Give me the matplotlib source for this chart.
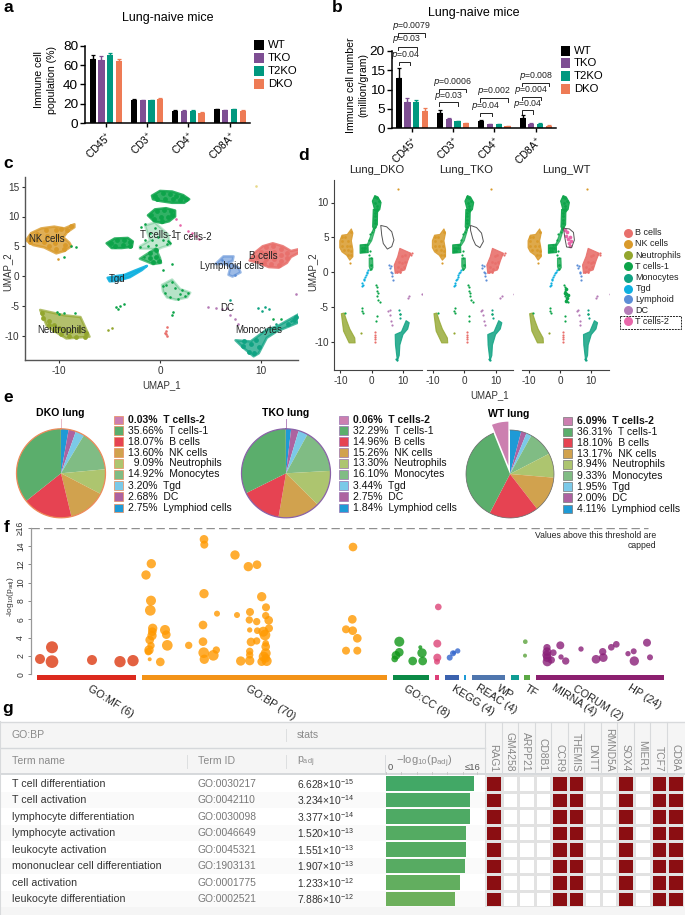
import matplotlib
matplotlib.use("Agg")
import matplotlib.pyplot as plt
import numpy as np
from matplotlib.patches import Rectangle, Polygon

plt.rcParams['font.family'] = ['Liberation Sans', 'DejaVu Sans']
plt.rcParams['mathtext.default'] = 'regular'
plt.rcParams['axes.unicode_minus'] = False

W, H = 685, 915
fig = plt.figure(figsize=(W / 100, H / 100), dpi=100)


def axpx(l, t, r, b, **kw):
    return fig.add_axes([l / W, 1 - b / H, (r - l) / W, (b - t) / H], **kw)


# ---------- data: panels a, b ----------
markers = ['CD45$^{+}$', 'CD3$^{+}$', 'CD4$^{+}$', 'CD8A$^{+}$']
genotypes = ['WT', 'TKO', 'T2KO', 'DKO']
geno_colors = ['#000000', '#7E4E93', '#00987F', '#EE7B55']
a_vals = [[66.5, 65.5, 70, 64], [23.5, 23.5, 23.5, 24.5], [12, 12.5, 12.5, 10.5], [14.5, 13, 14, 12.5]]
a_errs = [[4, 3.5, 2.5, 2.5], [1.5, .5, .5, 1.5], [1, .5, .5, 1], [.5, .5, .5, 1]]
b_vals = [[13, 6.9, 6.7, 4.5], [3.9, 2.3, 1.9, 1.3], [1.8, 1.1, 1.1, .5], [2.7, 1.2, 1.2, .7]]
b_errs = [[2.5, .9, .6, .7], [.7, .4, .1, .1], [.3, .1, .1, .1], [.7, .2, .1, .1]]

# ---------- data: UMAP overview (panel c): cloud outlines and scattered cells ----------
c_clouds = [
    ('NK', .8, [(-13.3,6),(-12.8,7.2),(-11.8,8),(-10.5,8.3),(-9.5,8),(-8.5,8.7),(-8.5,8.2),(-9.2,7.4),(-9.6,6.5),(-9,5.6),(-8.8,5),(-9.5,4.2),(-10.3,3.8),(-11.5,4.8),(-12.6,5.2)]),
    ('T1', .85, [(-.8,13.5),(0,14.3),(1.2,14.2),(2.3,13.6),(2.9,12.9),(2.4,12.3),(1.2,12.3),(0,12.6),(-.7,12.9)]),
    ('T1', .85, [(-1.2,10.2),(-.5,11.2),(.6,11.4),(1.5,11),(1.5,10),(.9,9.2),(.2,8.9),(-.6,9.2)]),
    ('T1', .85, [(-5.3,5.5),(-4.5,6.3),(-3.2,6.4),(-2.7,5.8),(-2.8,4.9),(-3.8,4.7),(-4.8,4.7)]),
    ('T1', .7, [(-2,2.9),(-1,4),(-.4,4.6),(0,3),(.1,2.2),(-.7,2),(-1.4,2.5)]),
    ('T1', .25, [(-2,5),(-1,6),(-1.5,8.5),(-.5,9),(.8,7),(1,5.2),(.2,4.8),(-.2,4.5),(-2,4.6)]),
    ('T1', .3, [(.2,-1.5),(1.2,-.6),(2,-2.2),(3,-2.8),(2.7,-3.6),(1.6,-4),(.7,-3.6),(.3,-2.6)]),
    ('B', .85, [(8.9,2.6),(9.4,3.9),(10.2,5),(11.2,5.5),(12.2,5),(13,4.2),(14,4.6),(14.8,4.7),(13.9,4),(13,3.2),(12.6,2.2),(11.8,1.4),(10.8,1.5),(9.8,2.2)]),
    ('Neu', .7, [(-11.9,-5.7),(-9.5,-6.6),(-7.9,-6.9),(-7,-10.2),(-9.3,-10.5),(-11.2,-8.5)]),
    ('Mono', .75, [(7.5,-10.8),(9,-11),(10.6,-9),(11.6,-8.5),(13.9,-6.3),(13.9,-7.7),(11.6,-9.3),(10.6,-10.4),(9.8,-13),(9.3,-13.5),(8.3,-12.1)]),
    ('Tgd', .9, [(-5.2,-.3),(-5,-.9),(-4.2,-.8),(-3,-.2),(-1.8,1),(-1.3,1.7),(-2.5,.9),(-3.5,.2),(-4.3,0)]),
    ('Lym', .6, [(5.5,2),(6.3,3.3),(7.3,3.3),(7.2,2.5),(6.8,2.3),(7.8,1.4),(8,.6),(7.2,-.1),(6.8,.2),(7,1.5),(6.5,2)]),
]
c_dense = {
    'NK': [(-12.8,6.2),(-12.2,7),(-12.2,6),(-11.3,7.7),(-11.2,6.8),(-11.5,5.7),(-10.3,7.8),(-10.2,6.8),(-10.4,5.5),
           (-9.2,7.8),(-8.8,8.4),(-9.8,7.9),(-9.4,5.2),(-10.3,4.5),(-11,5),(-9.5,4.6),(-12.9,5.7)],
    'T1': [(-.5,13.5),(.3,13.9),(1,13.8),(1.6,13.5),(2.2,13.2),(2.6,12.9),(-.3,13),(.5,13),(1.3,12.9),(2,12.7),
           (-.9,10.3),(-.3,11),(.4,11.1),(1.1,10.9),(-.6,9.6),(.1,10),(.8,10),(.2,9.2),(1.2,10.3),
           (-4.9,5.6),(-4.3,6),(-3.6,6),(-3,5.7),(-4.5,5.1),(-3.7,5.2),(-3,5),
           (-1,3.8),(-.4,4.3),(-1,3),(-.4,3.2),(-.1,2.6),(-.7,2.4)],
    'B': [(9.6,3.2),(10,4),(10.5,4.8),(11.2,5),(12,4.6),(12.6,3.8),(10.5,3.8),(11.3,4),(12,3.5),(12.6,3),
          (10.5,2.8),(11.3,2.9),(12,2.6),(11,2),(11.8,1.8),(10.3,2.2)],
    'Neu': [(-11.7,-6.3),(-11.6,-7),(-11,-7.5),(-11,-8.3),(-10.5,-8.2),(-10.5,-9.1),(-10,-8.7),(-9.8,-9.8),
            (-9.5,-9),(-9,-10.1),(-8.8,-9.3),(-8.3,-10.3),(-8,-9.3),(-7.4,-10.2),(-7.3,-9.5),(-8,-8.8)],
    'Mono': [(8.2,-11.7),(8.8,-12.8),(9.3,-13),(9.8,-12),(9,-11.5),(8.3,-11),(9.5,-10.8),(12.7,-8),(13.3,-7.4),(14,-7),(13.5,-6.9)],
}
c_sparse = {
    'NK': [(-10.1,2.9)],
    'T1': [(-1.5,6),(-1,7.2),(-.5,8),(-.8,6),(-.2,6.5),(-2,4.8),(-1.2,5),(-.4,5.2),(.3,6),(.8,5.9),(.7,5.4),(-1.9,8.2),(-1.5,8.8),
           (-1.6,3.2),(.6,-1.5),(1.2,-1),(1.5,-2),(2.2,-2.4),(2.8,-2.8),(2.5,-3.4),(1.8,-3.8),(1,-3.6),(.5,-2.8),(.3,-1.7),(2,-3),
           (-4.4,-5.2),(-4,-5),(-3.6,-4.7),(-4.2,-5.5),(1.3,-6),(1.2,-6.6),(-10.2,-6),(-10,-6.4),(-8.4,-6.2),(-9.5,-6.3),(-8.8,5),(-8.3,4.9),(-9.5,3.2),
           (12,-7.3),(11.2,-7.2),(1.2,2.1),(.3,1),(.9,5.7),(1,5.5)],
    'B': [(.7,-8.6),(.6,-9.2),(.6,-9.8),(.7,-10),(.5,-9.5)],
    'Neu': [(-5.2,-9),(-4.8,-8.8)],
    'Mono': [(9.7,-5.4),(10.4,-5.2),(10.8,-5.5),(10.1,-5.8),(7,-4),(11.5,-8),(13,-7.6)],
    'Lym': [(6.2,2.7),(7.4,.1)],
    'DC': [(4.8,-5.2),(5.6,-5.4),(6.2,-5.6),(6.7,-5.3),(7,-6.5),(7.4,-7.2),(7.7,-8),(14,-2.8),(13.5,-3)],
    'T2': [(1.6,9.5),(2,8.5),(2.8,7.5),(3.2,7.2),(3.6,6.8),(3.9,6.2),(3,6.8)],
    'Yel': [(9.5,15.1)],
}
c_labels = ['NK cells', 'T cells-1', 'T cells-2', 'B cells', 'Lymphoid cells', 'Tgd', 'DC', 'Neutrophils', 'Monocytes']
c_label_x = [-11.2, -0.2, 3.3, 10.3, 7.1, -4.3, 6.7, -9.8, 9.8]
c_label_y = [6.2, 6.9, 6.6, 3.3, 1.6, -.5, -5.3, -9, -9.1]

cell_colors = {'B': '#E8706C', 'NK': '#D99A2B', 'Neu': '#93A62E', 'T1': '#0DA44A', 'Mono': '#10A383', 'Tgd': '#0DB0E0',
               'Lym': '#5C8ED6', 'DC': '#B57CB7', 'T2': '#E766A9', 'Yel': '#E8D98A'}

# ---------- data: UMAP split by genotype (panel d) ----------
d_clouds = [
    ('NK', .85, [(-10.2,4.5),(-9.5,5.3),(-7.8,5.4),(-6.5,6.2),(-6,5.6),(-6.5,4.5),(-6,3.2),(-6,2.2),(-7,1.7),(-8,2.4),(-9.5,2.9),(-10.2,3.5)]),
    ('T1', .9, [(.2,10.2),(1,11),(2,10.8),(3,10),(2.6,9),(1.8,8.6),(1,8.8)]),
    ('T1', .9, [(.5,9),(1.9,9),(1.8,6.8),(.8,6),(.3,6.5)]),
    ('T1', .7, [(.5,6.2),(1,6),(0,4.5),(-1,3.8),(-1.5,3.8),(-.5,5)]),
    ('T1', .9, [(-3.7,3.9),(-1.2,4),(-1.1,2.8),(-3.7,2.7)]),
    ('T1', .75, [(-.8,2),(.3,2),(.4,.6),(-.4,.2),(-.8,.8)]),
    ('B', .9, [(9,3.4),(12.5,2.7),(11.6,1.7),(10.6,.3),(7.5,-.2),(7.2,1),(8.3,2.2)]),
    ('Neu', .8, [(-9.7,-6),(-8.8,-5.9),(-8,-7),(-7,-8.2),(-5.4,-9.5),(-5.3,-10.2),(-7.2,-10.2),(-9,-8.5)]),
    ('Mono', .85, [(8.2,-12.8),(7.6,-10.5),(7.5,-9),(9.5,-8.6),(11,-7),(12,-7.3),(11.5,-8.2),(10,-9),(9,-10.5),(8.8,-12)]),
]
d_dense = {
    'NK': [(-9.5,5),(-6.5,5.8),(-8.5,5),(-9.5,4.5),(-7.5,4.5),(-9.5,3.8),(-8,3.8),(-6.8,3.8),(-9,3.2),(-7.5,3.2),(-6.5,3),(-7.5,2.5),(-6.5,2.5)],
    'T1': [(1,10.8),(1.6,10.6),(1.2,10),(2.2,10.2),(1.6,9.5),(1.6,9),(1,8.5),(1,8),(1,7.5),(1,7),(-3.2,3.5),(-2.6,3.5),(-2,3.4),(-3.2,3),(-2.6,3),(-.2,1)],
    'B': [(9.8,2.3),(10.5,2.5),(8.8,1.5),(9.8,1.3),(10.7,1.5),(8.3,.7),(9.3,.5),(10.3,.7),(8,0),(9,0)],
}
d_sparse = {
    'NK': [(-7,1.3),(8.5,12)],
    'T1': [(1,6.5),(-.5,5.5),(-1,4.6),(-2.1,3.9),(-.5,3),(-.3,2),(-.3,.5),(.2,5.8),(-.8,2.4),
           (1.6,-2.2),(1.6,-2.8),(1.7,-3.4),(2,-4),(2.7,-4.3),(1.3,-1.9),(1.9,-3),(-3.2,-5.6),(-3.1,-5.2),(-2.9,-5.9),(1.6,-6.4),(1.5,-7),(9,-6),(-8.5,-5.9)],
    'B': [(12.7,2.5),(1,-9),(1,-9.3),(1,-9.7),(1,-10),(1,-8.6),(12.2,2.6),(12.9,2.7)],
    'Neu': [(-3.4,-8.8)],
    'Mono': [(9,-6),(9.2,-6.6),(8.2,-12.7),(7.9,-12.5),(8.8,-5.5)],
    'Tgd': [(-1.1,.3),(-1.6,-.2),(-2.1,-.7),(-2.6,-1.2),(-3,-1.6),(-3.2,-2),(-1.4,0),(-1.9,-.5),(-2.4,-1),(-2.9,-1.9)],
    'Lym': [(5.5,1),(6.2,.9),(6.3,0),(6.6,-.6),(6.8,-1.2),(5.8,.6),(6.5,-.2)],
    'DC': [(5.3,-5.6),(6,-6.2),(6.3,-7),(6.5,-7.6),(5.7,-5.4),(11.9,-3.4),(11.5,-3.7),(16,-3.1)],
}
wt_extra = {
    'T2': [(1.5,6),(2,5.2),(2.5,4.8),(2.9,4.2),(3.2,3.7),(3.5,4.5),(3.1,5),(2.3,5.8)],
    'T1': [(2,-2.5),(2,-3.1),(2.1,-3.7),(1.5,-3),(2.5,-3.3),(2,-4.2)],
}
panel_names = ['Lung_DKO', 'Lung_TKO', 'Lung_WT']
outline_x = [[2.9,4.8,6.4,7.1,6.4,5,3.7,3.2], [2,3.9,5.5,6.1,5,3.6,2.7,2], [1.1,3,4.3,4.6,3.7,2.1,1.6]]
outline_y = [[6.7,6.5,5.8,4.6,3.65,3.3,4.1,5.3], [6.7,6.4,5.6,4.4,3.5,3.9,4.8,6], [6.3,6.2,5.7,4.6,3.5,3.6,4.8]]
d_legend_names = ['B cells', 'NK cells', 'Neutrophils', 'T cells-1', 'Monocytes', 'Tgd', 'Lymphoid', 'DC', 'T cells-2']
d_legend_keys = ['B', 'NK', 'Neu', 'T1', 'Mono', 'Tgd', 'Lym', 'DC', 'T2']

# ---------- data: pies (panel e) ----------
pie_names = ['T cells-2', 'T cells-1', 'B cells', 'NK cells', 'Neutrophils', 'Monocytes', 'Tgd', 'DC', 'Lymphiod cells']
pie_colors = ['#CC7FB0', '#5BAE6C', '#E64352', '#D1A24E', '#ADC56F', '#80BC84', '#7BC9E8', '#AD62A0', '#1E9AD6']
dko_pct = [0.03, 35.66, 18.07, 13.60, 9.09, 14.92, 3.20, 2.68, 2.75]
tko_pct = [0.06, 32.29, 14.96, 15.26, 13.30, 16.10, 3.44, 2.75, 1.84]
wt_pct = [6.09, 36.31, 18.10, 13.17, 8.94, 9.33, 1.95, 2.00, 4.11]

# ---------- data: Manhattan plot (panel f) ----------
mf_pos = [40, 52, 52, 92, 120, 133]
mf_log = [1.67, 2.95, 1.38, 1.56, 1.38, 1.49]
mf_size = [15, 18, 19, 15, 17, 17]
bp_pos = [146,151.3,151,150.3,152.7,152.3,152,149.7,151,149,148.3,149.7,160.3,165,166.3,167.3,188.7,204,204.3,204,203,203,203.7,204.3,
          213.3,216.3,217,235,237,248.3,257,261.7,266,265.7,268.7,256.7,250,249.3,249.7,257.3,269,263.3,265,251,256.7,265.7,265.7,
          249.7,249.7,265.7,263.7,240.7,249.7,261.7,266.7,265.7,353,352.3,346,352.7,357.3,346,357.3]
bp_log = [10.84,12.07,8.04,6.98,5.02,4.65,4.22,3.75,3.13,2.65,2.47,1.64,1.35,4.84,4.33,3.16,3.16,14.73,14.15,8.8,5.38,3.56,2.36,1.64,
          2.07,2.65,6.62,13.02,6.47,11.75,11.96,8.47,7.31,6.4,5.89,5.75,6.8,5.93,4.84,4.76,5.02,4.65,4.29,3.53,3.64,3.38,3.02,
          2.51,2.11,2.29,1.93,1.45,1.49,1.38,1.45,1.75,13.89,6.0,4.91,4.76,3.93,2.58,2.58]
bp_size = [14,14,15,16,14,13,14,13,11,14,11,6,13,15,13,16,11,13,12,14,13,13,16,14,16,11,9,14,9,14,13,14,12,11,13,11,12,11,8,10,12,15,16,13,
           11,10,13,11,11,15,15,14,14,13,15,13,13,13,12,13,13,12,12]
cc_pos = [399.3,399.3,396,394.7,412.7,420.3,422,422.7]
cc_log = [3.56,2.4,2.07,1.67,1.45,2.95,2.33,1.45]
cc_size = [15,13,13,10,13,6,14,13]
kegg_pos = [438.3,437.3,437.3,437]
kegg_log = [7.35,3.35,1.82,1.38]
kegg_size = [10,12,12,9]
reac_pos = [449.7,453,457.7,454]
reac_log = [1.82,2.29,2.55,2.36]
reac_size = [9,9,8,6]
tf_pos = [525.3,525]
tf_log = [3.56,2.04]
tf_size = [7,6]
hp_pos = [547,547,546.7,547.3,553.3,551.3,547.3,560.3,561,565.7,581,596,602.7,603.3,611.3,616.3,628,633.7,647,634.3,650]
hp_log = [2.91,2.47,2.11,1.82,2.36,1.56,1.38,3.16,1.89,1.45,2.76,1.64,2.47,1.82,2.95,3.27,2.25,2.51,3.45,1.45,1.85]
hp_size = [11,13,13,13,10,11,14,12,8,11,8,13,11,13,10,10,8,9,12,14,9]

source_names = ['GO:MF (6)', 'GO:BP (70)', 'GO:CC (8)', 'KEGG (4)', 'REAC (4)', 'WP', 'TF', 'MIRNA (4)', 'CORUM (2)', 'HP (24)']
source_start = [36.7, 142, 393.3, 435, 445, 472, 511, 524.3, 535.7]
source_end = [136, 387.3, 429, 439.3, 458.7, 505.3, 518.7, 530, 664]
source_bar_colors = ['#DC2A1E', '#F39318', '#0B8A46', '#DD3F78', '#3B62AE', '#4F76AE', '#0F9D94', '#5BA845', '#8C2070']

# ---------- data: table (panel g) ----------
term_names = ['T cell differentiation', 'T cell activation', 'lymphocyte differentiation', 'lymphocyte activation',
              'leukocyte activation', 'mononuclear cell differentiation', 'cell activation', 'leukocyte differentiation']
term_ids = ['GO:0030217', 'GO:0042110', 'GO:0030098', 'GO:0046649', 'GO:0045321', 'GO:1903131', 'GO:0001775', 'GO:0002521']
p_mant = [6.628, 3.234, 3.377, 1.520, 1.551, 1.907, 1.233, 7.886]
p_exp = [-15, -14, -14, -13, -13, -13, -12, -12]
genes = ['RAG1', 'GM4258', 'ARPP21', 'CD8B1', 'CCR9', 'THEMIS', 'DNTT', 'RMND5A', 'SOX4', 'MIER1', 'TCF7', 'CD8A']
gene_hit = [1, 0, 0, 0, 1, 1, 0, 0, 1, 0, 1, 1]
bar_colors = ['#42A866', '#4BA965', '#4EAA64', '#54AB62', '#55AB62', '#57AB62', '#62AE5F', '#6DB05C']

# ---------- overlay ----------
px = axpx(0, 0, W, H)
px.set_xlim(0, W)
px.set_ylim(H, 0)
px.axis('off')
px.set_zorder(0)


def T(x, y, s, size=7, ha='center', va='center', **kw):
    return px.text(x, y, s, fontsize=size, ha=ha, va=va, **kw)


for lab, x, y in [('a', 8, 8), ('b', 337, 8), ('c', 8, 163), ('d', 304, 155), ('e', 8, 397), ('f', 7, 527), ('g', 8, 709)]:
    T(x, y, lab, size=12.5, fontweight='bold')


# ---------- panels a, b ----------
def barpanel(box, vals, errs, ymax, yticks, first, step):
    ax = axpx(*box)
    for g, (vg, eg) in enumerate(zip(vals, errs)):
        for i, (v, e) in enumerate(zip(vg, eg)):
            ax.bar(g * 4.72 + i, v, width=0.7, color=geno_colors[i], yerr=[[0], [e]],
                   ecolor=geno_colors[i], error_kw=dict(lw=1, capsize=1.6, capthick=0.9))
    ax.set_xlim(first, first + (box[2] - box[0]) / step)
    ax.set_ylim(0, ymax)
    ax.set_yticks(yticks)
    ax.set_xticks([4.72 * g + 1.5 for g in range(4)])
    ax.set_xticklabels(markers, rotation=45, ha='right', rotation_mode='anchor', fontsize=7.3)
    ax.tick_params(axis='y', labelsize=9.7, length=3.5, width=1, pad=1.5)
    ax.tick_params(axis='x', length=3, width=1, pad=2)
    for s in ['top', 'right']:
        ax.spines[s].set_visible(False)
    for s in ['left', 'bottom']:
        ax.spines[s].set_linewidth(1.1)
    ax.patch.set_alpha(0)
    return ax


barpanel((85, 45.7, 250, 123), a_vals, a_errs, 80, [0, 20, 40, 60, 80], -0.88, 8.75)
barpanel((391.7, 50.7, 556, 128.3), b_vals, b_errs, 20, [0, 5, 10, 15, 20], -0.8, 8.75)

T(168, 18.5, 'Lung-naive mice', size=9)
T(474, 12.7, 'Lung-naive mice', size=9)
T(45.5, 80, 'Immune cell\npopulation (%)', size=7.6, rotation=90, linespacing=1.3)
T(357.5, 85, 'Immune cell number\n(million/gram)', size=7.6, rotation=90, linespacing=1.3)

for x0, x1, ys, tx in [(254, 264, [44.7, 57.7, 71, 84.3], 268), (560.7, 570, [50.7, 63.3, 76, 89.3], 574)]:
    for c, y, n in zip(geno_colors, ys, genotypes):
        px.add_patch(Rectangle((x0, y - 5), x1 - x0, 10, fc=c, ec='none'))
        T(tx, y, n, size=8.2, ha='left')

p_text = ['p=0.04', 'p=0.03', 'p=0.0079', 'p=0.03', 'p=0.0006', 'p=0.04', 'p=0.002', 'p=0.04', 'p=0.004', 'p=0.008']
br_x0 = [178, 174, 174, 298, 298, 420, 420, 547, 547, 547]
br_x1 = [211, 230, 256, 353, 378, 455, 505, 578, 602, 628]
br_top = [186, 140, 100, 307, 266, 338, 295, 331, 290, 249]
tx_y = [165, 118, 78, 287, 246, 318, 274, 311, 269, 229]
tx_x = [196, 201, 214, 325, 339, 438, 461, 562, 574, 587]
for s, a0, a1, t, ty, txx in zip(p_text, br_x0, br_x1, br_top, tx_y, tx_x):
    xa, xb = 340 + a0 / 3, 340 + a1 / 3
    yt, yb = t / 3, (t + 10) / 3
    px.plot([xa, xa, xb, xb], [yb, yt, yt, yb], color='#222222', lw=0.7, solid_joinstyle='miter')
    T(340 + txx / 3, ty / 3, '$\\mathit{p}$' + s[1:], size=6.3, color='#222222')


# ---------- panel c ----------
def scatter_groups(ax, groups, s):
    for k, pts in groups.items():
        ax.scatter([p[0] for p in pts], [p[1] for p in pts], s=s, color=cell_colors[k], lw=0, zorder=2)


def cloud_polys(ax, clouds, lw):
    for k, a, pts in clouds:
        ax.add_patch(Polygon(pts, closed=True, fc=cell_colors[k], ec=cell_colors[k], lw=lw, alpha=a, joinstyle='round', zorder=1))


axc = axpx(25, 176.7, 298, 360)
axc.set_xlim((25 - 160) / 10.07, (298 - 160) / 10.07)
axc.set_ylim((276 - 360) / 5.95, (276 - 176.7) / 5.95)
cloud_polys(axc, c_clouds, 1.8)
scatter_groups(axc, c_dense, 12)
scatter_groups(axc, c_sparse, 3.5)
axc.set_xticks([-10, 0, 10])
axc.set_yticks([-10, -5, 0, 5, 10, 15])
axc.tick_params(labelsize=7.2, length=2.5, width=0.8, pad=1.5, colors='#333333')
for s in ['top', 'right']:
    axc.spines[s].set_visible(False)
for s in ['left', 'bottom']:
    axc.spines[s].set_linewidth(1.0)
    axc.spines[s].set_color('#555555')
axc.patch.set_alpha(0)
T(7, 271.7, 'UMAP_2', size=7, rotation=90, color='#333333')
T(162, 385, 'UMAP_1', size=7, color='#333333')
for n, x, y in zip(c_labels, c_label_x, c_label_y):
    axc.text(x, y, n, fontsize=7, ha='center', va='center', color='#222222', zorder=5)

# ---------- panel d ----------
d_boxes = [(334.3, 421.7, 371.7), (427, 513, 464.3), (522, 609, 560)]
for i, (l, r, zero) in enumerate(d_boxes):
    ax = axpx(l, 180, r, 370)
    ax.set_xlim((l - zero) / 3.13, (r - zero) / 3.13)
    ax.set_ylim((272 - 370) / 6.95, (272 - 180) / 6.95)
    cloud_polys(ax, d_clouds, 0.8)
    scatter_groups(ax, d_dense, 4)
    scatter_groups(ax, d_sparse, 2.5)
    if i == 2:
        scatter_groups(ax, wt_extra, 7)
    ax.add_patch(Polygon(list(zip(outline_x[i], outline_y[i])), closed=True, fc='none', ec='#555555', lw=0.7, zorder=3, joinstyle='round'))
    ax.set_xticks([-10, 0, 10])
    ax.tick_params(labelsize=7.2, length=2.5, width=0.8, pad=1.5, colors='#333333')
    for s in ['top', 'right']:
        ax.spines[s].set_visible(False)
    ax.spines['bottom'].set_color('#444444')
    if i == 0:
        ax.set_yticks([-10, -5, 0, 5, 10])
        ax.spines['left'].set_color('#444444')
    else:
        ax.set_yticks([])
        ax.spines['left'].set_visible(False)
    ax.patch.set_alpha(0)
for n, x in zip(panel_names, [377, 466, 566.7]):
    T(x, 170, n, size=8, color='#222222')
T(312.7, 271.7, 'UMAP_2', size=7, rotation=90, color='#333333')
T(490, 395, 'UMAP_1', size=7, color='#333333')
leg_y = [232.7, 244, 255.3, 266.3, 277.7, 288.7, 299.3, 310.3, 321.3]
for n, k, y in zip(d_legend_names, d_legend_keys, leg_y):
    px.scatter([627.7], [y], s=42, color=cell_colors[k], lw=0)
    T(635.3, y, n, size=6.5, ha='left', color='#222222')
px.add_patch(Rectangle((620, 315.7), 61, 13.6, fc='none', ec='#222222', lw=0.7, ls=(0, (2, 1))))


# ---------- panel e ----------
def pie_panel(cx, cy, r, pct, edge, explode, title, tx, ty, sx0, sx1, text_x, ys, swatch_edge):
    ax = axpx(cx - 60, cy - 60, cx + 60, cy + 60)
    rev = pct[::-1]
    ex = [0] * 8 + [explode]
    ax.pie(rev, colors=pie_colors[::-1], startangle=90, counterclock=False, radius=r, center=(0, 0),
           explode=ex, wedgeprops=dict(edgecolor='none'), frame=True)
    ax.set_xlim(-60, 60)
    ax.set_ylim(-60, 60)
    ax.axis('off')
    arc_from = np.pi / 2 + 2 * np.pi * pct[0] / 100 if explode else np.pi / 2
    th = np.linspace(arc_from, np.pi / 2 + 2 * np.pi, 200)
    ax.plot(r * np.cos(th), r * np.sin(th), color=edge, lw=0.9 if not explode else 0.5)
    T(tx, ty, title, size=7.6, fontweight='bold')
    for i, (n, v, y) in enumerate(zip(pie_names, pct, ys)):
        px.add_patch(Rectangle((sx0, y - 4.4), sx1 - sx0, 8.8, fc=pie_colors[i], ec=swatch_edge, lw=0.5))
        lead = '  ' if (pct is dko_pct and i == 4) else ''
        T(text_x, y, f'{lead}{v:.2f}%  {n}', size=7.5, ha='left', color='#111111', fontweight='bold' if i == 0 else 'normal')


ys1 = [420, 430.7, 441.7, 452.7, 463.3, 474.3, 485.7, 496.7, 508]
ys3 = [421, 432, 442.7, 453.7, 464.3, 475.7, 486.7, 497.7, 509]
pie_panel(61, 473.3, 44.5, dko_pct, '#EE8A5A', 0, 'DKO lung', 60.7, 412.7, 114.3, 123, 127.7, ys1, '#E88C5C')
pie_panel(286, 473.3, 44.5, tko_pct, '#8A62A8', 0, 'TKO lung', 286, 412.7, 339.3, 348, 352.7, ys1, '#9A74B0')
pie_panel(510, 474, 44, wt_pct, '#666666', 8.5, 'WT lung', 509, 414, 563.3, 571.7, 576.7, ys3, '#777777')
px.plot([61, 61], [419, 429], color='#E8B8C8', lw=0.7)
px.plot([286, 286], [419, 429], color='#B58AC0', lw=0.7)

# ---------- panel f ----------
axf = axpx(30.7, 527.7, 665, 674.3)
axf.set_xlim(30.7, 665)
axf.set_ylim(0, 16)
for pos, lg, sz, col in [(mf_pos, mf_log, mf_size, '#DC3912'), (bp_pos, bp_log, bp_size, '#FF9900'), (cc_pos, cc_log, cc_size, '#109618'),
                         (kegg_pos, kegg_log, kegg_size, '#DD4477'), (reac_pos, reac_log, reac_size, '#3366CC'),
                         (tf_pos, tf_log, tf_size, '#5BA33C'), (hp_pos, hp_log, hp_size, '#8A1F78')]:
    axf.scatter(pos, lg, s=[0.23 * v ** 2 for v in sz], color=col, alpha=0.8, lw=0, clip_on=False, zorder=3)
axf.axhline(16, xmin=0, xmax=(648 - 30.7) / (665 - 30.7), color='#8F8F8F', lw=1.0, ls=(0, (6, 3)))
axf.set_yticks([0, 2, 4, 6, 8, 10, 12, 14, 16])
axf.set_yticklabels(['0', '2', '4', '6', '8', '10', '12', '14', '≥16'], rotation=90, va='center', fontsize=6.2, color='#333333')
axf.set_xticks([])
axf.tick_params(axis='y', length=2.5, width=0.7, color='#888888', pad=1.5)
for s in ['top', 'right', 'bottom']:
    axf.spines[s].set_visible(False)
axf.spines['left'].set_color('#999999')
axf.spines['left'].set_linewidth(0.9)
axf.patch.set_alpha(0)
T(10.5, 596.7, '-log$_{10}$(p$_{adj}$)', size=6, rotation=90, color='#333333')
T(656, 535, 'Values above this threshold are', size=6.2, ha='right', color='#222222')
T(656, 545, 'capped', size=6.2, ha='right', color='#222222')
for a, b, c in zip(source_start, source_end, source_bar_colors):
    px.add_patch(Rectangle((a, 674.5), b - a, 5, fc=c, ec='none'))
px.add_patch(Rectangle((464.3, 674.5), 2, 5, fc='#1E9AD6', ec='none'))
lab_x = [91, 249, 407.7, 455, 479.3, 500, 527.7, 555, 576.7, 631]
lab_y = [684, 684, 684, 684, 683, 683, 683, 683, 684, 683]
for n, x, y in zip(source_names, lab_x, lab_y):
    T(x, y, n, size=7.8, ha='left', va='top', rotation=-32, rotation_mode='anchor', color='#222222')

# ---------- panel g ----------
gy0, gy1 = 722.3, 915
row0, rowh = 775.4, 16.5
px.add_patch(Rectangle((0, gy0), W, gy1 - gy0, fc='#F5F5F5', ec='none', zorder=0))
px.add_patch(Rectangle((0, row0 - 1), W, 8 * rowh + 1, fc='#FFFFFF', ec='none', zorder=0))
for i in range(8):
    if i % 2 == 1:
        px.add_patch(Rectangle((0, row0 + i * rowh), W, rowh, fc='#FAFAFA', ec='none', zorder=0))
px.plot([0, W], [gy0, gy0], color='#D8DADC', lw=1)
px.plot([0, 485], [747.7, 747.7], color='#D5D8DB', lw=1)
px.plot([0, W], [774.3, 774.3], color='#D0D3D6', lw=1.2)
px.plot([0, 0], [gy0, gy1], color='#D8DADC', lw=1.5)
for x, y0, y1 in [(286.5, 729, 741), (187, 755, 768), (286.5, 755, 768)]:
    px.plot([x, x], [y0, y1], color='#DDDFE0', lw=0.7)
T(11.7, 735, 'GO:BP', size=7.6, ha='left', color='#8A8A8A')
T(296.7, 735, 'stats', size=7.6, ha='left', color='#8A8A8A')
T(11.7, 761, 'Term name', size=7.6, ha='left', color='#8A8A8A')
T(197.7, 761, 'Term ID', size=7.6, ha='left', color='#8A8A8A')
T(296.7, 762, 'p$_{adj}$', size=7.6, ha='left', color='#8A8A8A')
for i in range(8):
    y = row0 + (i + 0.5) * rowh
    T(11.7, y, term_names[i], size=7.7, ha='left', color='#333333')
    T(197.7, y, term_ids[i], size=7.4, ha='left', color='#777777')
    T(296.7, y, f'{p_mant[i]:.3f}×10$^{{{p_exp[i]}}}$', size=7.4, ha='left', color='#333333')

neglog = [-(np.log10(m) + e) for m, e in zip(p_mant, p_exp)]
axb = axpx(386, row0, 485.4, row0 + 8 * rowh)
axb.barh(range(8), neglog, height=0.89, color=bar_colors, left=0)
axb.set_xlim(0, 16)
axb.set_ylim(7.5, -0.5)
axb.axis('off')

T(390.7, 767.5, '0', size=6.8, color='#555555')
T(473, 767.5, '≤16', size=6.8, color='#555555')
T(424, 761.7, '−log$_{10}$(p$_{adj}$)', size=8, color='#8A8A8A')
for v in [0, 2.7, 5.4, 8, 10.7, 13.4, 16]:
    x = 386 + v * 6.21 * 0.92
    px.plot([x, x], [771.5, 774], color='#C4C4C4', lw=0.6)
px.plot([385.5, 385.5], [755, 774], color='#D5D8DB', lw=0.6)

hm_left, hm_w = 485, 16.55
axh = axpx(hm_left, row0, hm_left + 12 * hm_w, row0 + 8 * rowh)
hm = np.array([gene_hit] * 8, dtype=float)
axh.pcolormesh(np.arange(13), np.arange(9), hm, cmap=matplotlib.colors.ListedColormap(['#FFFFFF', '#8B0E12']),
               edgecolors='#E2E2E2', linewidth=1.0)
axh.set_xlim(0, 12)
axh.set_ylim(8, 0)
axh.axis('off')
for j, g in enumerate(genes):
    x = hm_left + (j + 0.5) * hm_w
    T(x, 771.5, g, size=7.4, rotation=-90, va='bottom', color='#888888')
    px.plot([hm_left + j * hm_w] * 2, [gy0, 774], color='#D8DADC', lw=0.8)

fig.savefig('out.png', dpi=100)
